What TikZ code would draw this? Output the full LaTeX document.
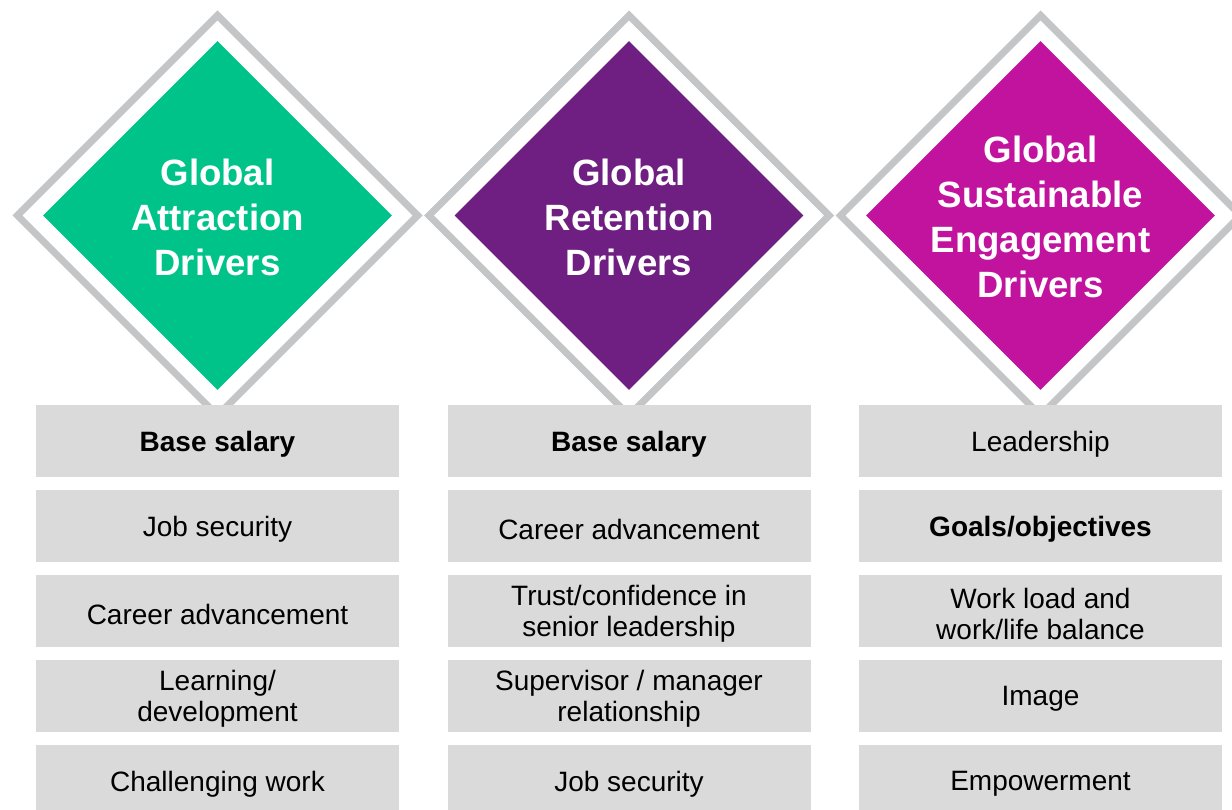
\documentclass[tikz,border=0pt]{standalone}
\usepackage{fontspec}
\setmainfont{Liberation Sans}
\usetikzlibrary{shapes.geometric}
\definecolor{drvgreen}{HTML}{00C389}
\definecolor{drvpurple}{HTML}{6E1F81}
\definecolor{drvmagenta}{HTML}{C1139E}
\definecolor{boxgray}{HTML}{D9DAD9}
\definecolor{rimgray}{HTML}{C4C5C7}
\tikzset{
  rim/.style={diamond, aspect=1, draw=rimgray, line width=7pt, inner sep=0pt,
    minimum width=403pt, minimum height=403pt},
  core/.style={diamond, aspect=1, inner sep=0pt, draw=none,
    minimum width=349pt, minimum height=349pt},
  title/.style={text=white, align=center, font=\fontsize{36.6}{45}\selectfont\bfseries},
  itembox/.style={rectangle, fill=boxgray, inner sep=0pt, minimum width=363pt,
    minimum height=72pt},
  itemtext/.style={align=center, inner sep=0pt, font=\fontsize{28}{30.5}\selectfont}
}
% one grey driver box with its centred label
\newcommand{\driveritem}[4]{%
  \node[itembox] (#1) at (#2,#3) {};
  \node[itemtext] (#1t) at ([yshift=-3pt]#1.center) {#4};
}
\begin{document}
\begin{tikzpicture}[x=1pt,y=-1pt]
\useasboundingbox (0,0) rectangle (1232,810);
\clip (0,0) rectangle (1232,810);
\fill[white] (0,0) rectangle (1232,810);

% grey outer frames
\node[rim] (o1) at (217.5,215.5) {};
\node[rim] (o2) at (629,215.5) {};
\node[rim] (o3) at (1040.5,215.5) {};

% coloured diamonds
\node[core, fill=drvgreen] (d1) at (217.5,215.5) {};
\node[core, fill=drvpurple] (d2) at (629,215.5) {};
\node[core, fill=drvmagenta] (d3) at (1040.5,215.5) {};

\node[title] (t1) at (217.5,217) {Global\\Attraction\\Drivers};
\node[title] (t2) at (629,217) {Global\\Retention\\Drivers};
\node[title] (t3) at (1040.5,217) {Global\\Sustainable\\Engagement\\Drivers};

% attraction column
\driveritem{a1}{217.5}{441}{\textbf{Base salary}}
\driveritem{a2}{217.5}{526}{Job security}
\driveritem{a3}{217.5}{611}{Career advancement}
\driveritem{a4}{217.5}{696}{Learning/\\development}
\driveritem{a5}{217.5}{781}{Challenging work}

% retention column
\driveritem{r1}{629}{441}{\textbf{Base salary}}
\driveritem{r2}{629}{526}{Career advancement}
\driveritem{r3}{629}{611}{Trust/confidence in\\senior leadership}
\driveritem{r4}{629}{696}{Supervisor / manager\\relationship}
\driveritem{r5}{629}{781}{Job security}

% engagement column
\driveritem{e1}{1040.5}{441}{Leadership}
\driveritem{e2}{1040.5}{526}{\textbf{Goals/objectives}}
\driveritem{e3}{1040.5}{611}{Work load and\\work/life balance}
\driveritem{e4}{1040.5}{696}{Image}
\driveritem{e5}{1040.5}{781}{Empowerment}
\end{tikzpicture}
\end{document}
